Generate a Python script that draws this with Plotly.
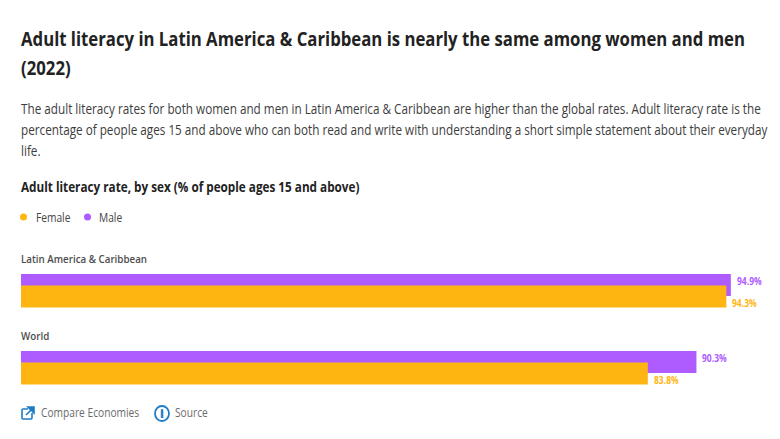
import plotly.graph_objects as go

regions = ['Latin America & Caribbean', 'World']
female = [94.3, 83.8]
male = [94.9, 90.3]

title_lines = ['Adult literacy in Latin America & Caribbean is nearly the same among women and men', '(2022)']
sub_lines = [
    'The adult literacy rates for both women and men in Latin America & Caribbean are higher than the global rates. Adult literacy rate is the',
    'percentage of people ages 15 and above who can both read and write with understanding a short simple statement about their everyday',
    'life.',
]
heading = 'Adult literacy rate, by sex (% of people ages 15 and above)'

PURPLE = '#AE5BFF'
ORANGE = '#FFB511'
BLUE = '#1F7CC4'
FONT = 'Open Sans'

W, H = 780, 439
L, R, T, B = 21, 11, 252, 33

# the reference text is squeezed sideways, so annotations get narrowed after drawing, keeping their left end
SQUEEZE = 0.85
squeeze_js = """
document.body.style.margin = '0';
document.querySelectorAll('.annotation-text-g text').forEach(function (t) {
    if (t.textContent.length < 2) return;
    var len = t.getComputedTextLength();
    t.setAttribute('x', parseFloat(t.getAttribute('x')) - len / 2);
    t.style.textAnchor = 'start';
    t.setAttribute('textLength', len * %s);
    t.setAttribute('lengthAdjust', 'spacingAndGlyphs');
    var bg = t.parentNode.querySelector('rect');
    if (bg) bg.setAttribute('width', len * %s);
});
""" % (SQUEEZE, SQUEEZE)


def px(x):
    return (x - L) / (W - L - R)


def py(y):
    return 1 - (y - T) / (H - T - B)


def label(text, x, y, size, color, weight=400):
    # page text, placed in pixels from the top left of the window
    return dict(text=text, x=px(x), y=py(y), xref='paper', yref='paper', xanchor='left', yanchor='middle',
                showarrow=False, font=dict(family=FONT, size=size, color=color, weight=weight))


fig = go.Figure()
fig.add_trace(go.Bar(y=regions, x=male, orientation='h', name='Male', marker=dict(color=PURPLE, line_width=0),
                     width=0.286, offset=-0.214))
fig.add_trace(go.Bar(y=regions, x=female, orientation='h', name='Female', marker=dict(color=ORANGE, line_width=0),
                     width=0.286, offset=-0.065))

notes = []
for i, line in enumerate(title_lines):
    notes.append(label(line, 19, 38 + 29 * i, 19.7, '#222222', 700))
for i, line in enumerate(sub_lines):
    notes.append(label(line, 19, 108 + 21 * i, 13.8, '#3D3D3D'))
notes.append(label(heading, 19, 186, 13.8, '#222222', 700))
notes.append(label('Female', 34, 217, 12, '#444444'))
notes.append(label('Male', 97, 217, 12, '#444444'))
notes.append(label('Latin America & Caribbean', 19, 258, 11.5, '#4D4D4D', 600))
notes.append(label('World', 19, 335, 11.5, '#4D4D4D', 600))
notes.append(label('Compare Economies', 39, 412, 12, '#6B6B6B'))
notes.append(label('Source', 173, 412, 12, '#6B6B6B'))

# value labels sit off the bar ends, above for male and below for female
for i, region in enumerate(regions):
    notes.append(dict(text=f'{male[i]}%', x=male[i], y=region, xanchor='left', yanchor='middle', xshift=4,
                      yshift=10, showarrow=False, font=dict(family=FONT, size=10, color=PURPLE, weight=700)))
    notes.append(dict(text=f'{female[i]}%', x=female[i], y=region, xanchor='left', yanchor='middle', xshift=4,
                      yshift=-12, showarrow=False, font=dict(family=FONT, size=10, color=ORANGE, weight=700)))

shapes = []
for cx, color in [(23.5, ORANGE), (87.5, PURPLE)]:
    shapes.append(dict(type='circle', xref='paper', yref='paper', x0=px(cx - 3.5), x1=px(cx + 3.5),
                       y0=py(217 + 3.5), y1=py(217 - 3.5), fillcolor=color, line_width=0))

# source icon
shapes.append(dict(type='circle', xref='paper', yref='paper', x0=px(155), x1=px(169), y0=py(421), y1=py(406),
                   line=dict(color=BLUE, width=1.8), fillcolor='white'))
notes.append(dict(text='i', x=px(162), y=py(413.5), xref='paper', yref='paper', xanchor='center', yanchor='middle',
                  showarrow=False, font=dict(family=FONT, size=12, color=BLUE, weight=800)))


# compare icon: open box with arrow
def pt(x, y):
    return f'{px(x)} {py(y)}'


box = f'M {pt(28, 409)} L {pt(23, 409)} Q {pt(22, 409)} {pt(22, 410)} L {pt(22, 418)} Q {pt(22, 419)} {pt(23, 419)} ' \
      f'L {pt(31, 419)} Q {pt(32, 419)} {pt(32, 418)} L {pt(32, 413)}'
arrow = f'M {pt(26, 415)} L {pt(33, 408)}'
head = f'M {pt(28, 407)} L {pt(34, 407)} L {pt(34, 413)} Z'
for path, fill in [(box, None), (arrow, None), (head, BLUE)]:
    shapes.append(dict(type='path', xref='paper', yref='paper', path=path, fillcolor=fill,
                       line=dict(color=BLUE, width=1.6)))

fig.update_layout(
    width=W, height=H,
    margin=dict(l=L, r=R, t=T, b=B),
    barmode='overlay',
    showlegend=False,
    paper_bgcolor='white',
    plot_bgcolor='white',
    xaxis=dict(range=[0, 100], visible=False),
    yaxis=dict(range=[1.5, -0.5], visible=False, type='category', categoryorder='array', categoryarray=regions),
    annotations=notes,
    shapes=shapes,
)

fig.write_html("out.html", config=dict(displayModeBar=False), post_script=squeeze_js)
